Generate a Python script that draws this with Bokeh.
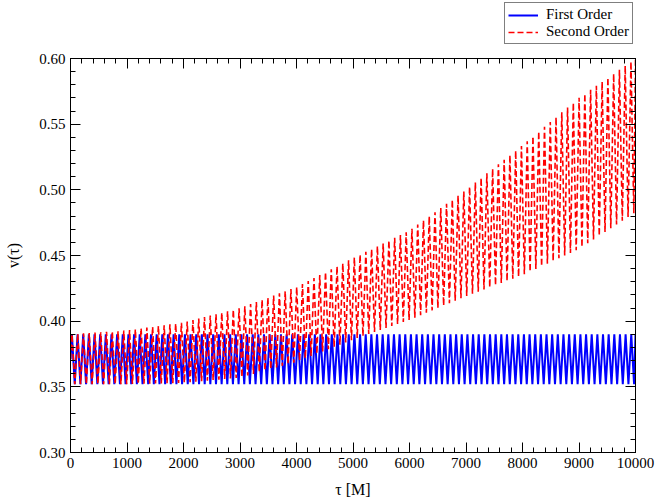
import numpy as np
from bokeh.plotting import figure
from bokeh.layouts import column
from bokeh.models import (Range1d, LinearAxis, Legend, LegendItem, FixedTicker)
from bokeh.embed import file_html
from bokeh.resources import INLINE

# ---- data ----
x_ticks = [0, 1000, 2000, 3000, 4000, 5000, 6000, 7000, 8000, 9000, 10000]
y_ticks = [0.30, 0.35, 0.40, 0.45, 0.50, 0.55, 0.60]
series_names = ["First Order", "Second Order"]

# First order: constant-amplitude oscillation
blue_period = 100.0
blue_max = 0.390
blue_min = 0.352

# Second order: envelope of the oscillation at these times
red_period = 102.0
env_t = [0, 1000, 2000, 3000, 4000, 5000, 6000, 7000, 8000, 9000, 10000]
red_upper = [0.390, 0.393, 0.399, 0.410, 0.426, 0.448, 0.469, 0.500, 0.534, 0.570, 0.600]
red_lower = [0.352, 0.352, 0.353, 0.357, 0.369, 0.386, 0.401, 0.419, 0.435, 0.455, 0.483]

T_END = 10000.0

# ---- build extreme-point sequences ----
def extremes(period, upper, lower, t_env=None):
    ts = np.arange(period / 4.0, T_END, period / 2.0)
    ts = np.concatenate([[0.0], ts, [T_END]])
    if t_env is None:
        up = np.full(ts.shape, upper)
        lo = np.full(ts.shape, lower)
    else:
        up = np.interp(ts, t_env, upper)
        lo = np.interp(ts, t_env, lower)
    vals = np.empty_like(ts)
    vals[0] = 0.5 * (up[0] + lo[0])
    for i in range(1, len(ts) - 1):
        vals[i] = up[i] if (i % 2 == 1) else lo[i]
    vals[-1] = up[-1]
    return ts, vals

bt, bv = extremes(blue_period, blue_max, blue_min)
rt, rv = extremes(red_period, red_upper, red_lower, env_t)

BLUE = "#0000ff"
RED = "#ff0000"
font = "Liberation Serif"

p = figure(frame_width=565, frame_height=394, output_backend="svg", toolbar_location=None,
           x_range=Range1d(0, 10000), y_range=Range1d(0.30, 0.60),
           min_border_left=70, min_border_right=20, min_border_top=14,
           min_border_bottom=50, background_fill_color="white",
           border_fill_color="white")
p.outline_line_color = "black"
p.outline_line_width = 1
p.xgrid.visible = False
p.ygrid.visible = False

p.line(bt, bv, line_color=BLUE, line_width=2)
p.line(rt, rv, line_color=RED, line_width=1.6, line_dash="6 3")


def style_axis(ax, labels=True):
    ax.axis_line_color = "black"
    ax.major_tick_in = 10
    ax.major_tick_out = 0
    ax.minor_tick_in = 5
    ax.minor_tick_out = 0
    ax.major_tick_line_color = "black"
    ax.minor_tick_line_color = "black"
    ax.major_label_text_font = font
    ax.major_label_text_font_size = "15px"
    ax.major_label_text_color = "black"
    ax.axis_label_text_font = font
    ax.axis_label_text_font_style = "normal"
    ax.axis_label_text_font_size = "16px"
    ax.axis_label_text_color = "black"
    if not labels:
        ax.major_label_text_alpha = 0
        ax.major_label_text_font_size = "1px"
        ax.major_label_standoff = 0

minor_x = list(np.arange(0, 10001, 200))
minor_y = [round(0.30 + 0.01 * i, 2) for i in range(31)]

p.xaxis.ticker = FixedTicker(ticks=x_ticks, minor_ticks=minor_x)
p.yaxis.ticker = FixedTicker(ticks=y_ticks, minor_ticks=minor_y)
p.xaxis.axis_label = "τ [M]"
p.yaxis.axis_label = "v(τ)"
p.xaxis.axis_label_standoff = 10
p.yaxis.axis_label_standoff = 14
p.yaxis.major_label_overrides = {v: f"{v:.2f}" for v in y_ticks}
style_axis(p.xaxis[0])
style_axis(p.yaxis[0])

top = LinearAxis(ticker=FixedTicker(ticks=x_ticks, minor_ticks=minor_x))
style_axis(top, labels=False)
p.add_layout(top, "above")
right = LinearAxis(ticker=FixedTicker(ticks=y_ticks, minor_ticks=minor_y))
style_axis(right, labels=False)
p.add_layout(right, "right")

# ---- legend strip above the plot (its frame is aligned with the main frame) ----
leg_h = 44
pl = figure(width=655, height=leg_h, output_backend="svg", toolbar_location=None,
            x_axis_type=None, y_axis_type=None, x_range=Range1d(0, 1), y_range=Range1d(0, 1),
            min_border_left=70, min_border_right=20,
            min_border_top=0, min_border_bottom=0,
            background_fill_color="white", border_fill_color="white")
pl.outline_line_color = None
pl.grid.visible = False
# proxy lines lying outside the strip's visible range, used only for legend glyphs
lb = pl.line([-5, -4], [-5, -4], line_color=BLUE, line_width=2)
lr = pl.line([-5, -4], [-5, -4], line_color=RED, line_width=1.6, line_dash="6 3")

legend = Legend(items=[LegendItem(label=series_names[0], renderers=[lb]),
                       LegendItem(label=series_names[1], renderers=[lr])],
                location=(434, 0))
legend.label_text_font = font
legend.label_text_font_size = "15px"
legend.label_text_color = "black"
legend.label_height = 16
legend.glyph_height = 16
legend.glyph_width = 30
legend.spacing = 0
legend.padding = 3
legend.margin = 0
legend.label_standoff = 8
legend.border_line_color = "black"
legend.border_line_width = 1
legend.background_fill_alpha = 1
pl.add_layout(legend, "center")

layout = column(pl, p, spacing=0)
open("out.html", "w").write(file_html(layout, INLINE))
